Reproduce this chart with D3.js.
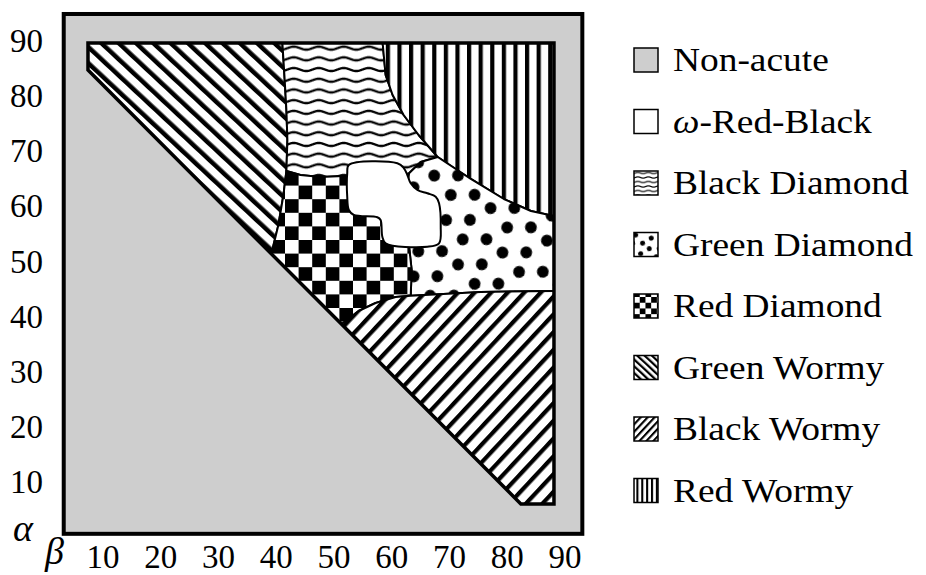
<!DOCTYPE html>
<html>
<head>
<meta charset="utf-8">
<script src="https://cdn.jsdelivr.net/npm/d3@7"></script>
<style>
  body { margin: 0; background: #fff; font-family: "Liberation Serif"; }
  svg { display: block; }
</style>
</head>
<body>
<script>
// Phase diagram over the angles (beta, alpha) of a triangle.
const tickValues = [10, 20, 30, 40, 50, 60, 70, 80, 90];
const frameBeta = [3.2, 93.0];
const frameAlpha = [0.6, 94.9];

// Region of acute triangles that was sampled
const acuteRegion = [[7.40, 89.64], [7.40, 84.74], [82.36, 6.01], [88.09, 6.01], [88.09, 89.64]];

// Phase regions as [beta, alpha] outlines (clipped to the acute region)
const greenWormy = [[0, 100], [41.06, 100], [41.06, 89.64], [41.41, 83.83], [41.76, 77.48], [41.93, 72.04],
  [41.76, 66.42], [41.24, 62.06], [40.37, 56.62], [39.15, 51.38], [0, 30]];
const blackDiamond = [[41.06, 100], [58.42, 100], [58.42, 89.64], [58.94, 83.83], [60.15, 80.20], [62.06, 76.58],
  [64.66, 72.95], [67.96, 68.96], [65.01, 68.05], [63.0, 66.0], [60.0, 65.0], [53.0, 65.5], [51.65, 65.51],
  [47.66, 65.33], [44.19, 65.69], [41.76, 66.42], [41.93, 72.04], [41.76, 77.48], [41.41, 83.83], [41.06, 89.64]];
const redWormy = [[58.42, 100], [100, 100], [100, 58.25], [88.09, 58.25], [84.10, 59.16], [79.41, 61.34],
  [73.69, 64.97], [67.96, 68.96], [64.66, 72.95], [62.06, 76.58], [60.15, 80.20], [58.94, 83.83], [58.42, 89.64]];
const greenDiamond = [[67.96, 68.96], [73.69, 64.97], [79.41, 61.34], [84.10, 59.16], [88.09, 58.25], [100, 58.25],
  [100, 44.65], [88.09, 44.65], [75.42, 44.47], [63.28, 43.8], [63.45, 48.46], [62.93, 53.36], [62.0, 58.0],
  [63.0, 66.0], [65.01, 68.05]];
const redDiamond = [[41.76, 66.42], [44.19, 65.69], [47.66, 65.33], [51.65, 65.51], [53.0, 65.5], [60.0, 62.0],
  [62.93, 53.36], [63.45, 48.46], [63.28, 43.8], [60.67, 43.56], [57.20, 42.47], [54.25, 41.02], [51.30, 38.62],
  [40, 35], [39.15, 51.38], [40.37, 56.62], [41.24, 62.06]];
const blackWormy = [[51.30, 38.62], [54.25, 41.02], [57.20, 42.47], [60.67, 43.56], [63.28, 43.8], [75.42, 44.47],
  [88.09, 44.65], [100, 44.65], [100, 0], [50, 0]];
const omegaRedBlack = [[52.57, 67.51], [60.97, 67.81], [62.11, 66.91], [62.70, 65.69], [63.28, 64.19],
  [64.44, 62.97], [66.17, 62.37], [67.61, 61.76], [68.19, 60.56], [68.48, 56.31], [68.19, 53.30], [66.17, 52.68],
  [58.94, 53.30], [58.37, 54.50], [58.07, 57.53], [57.50, 58.02], [53.44, 58.44], [52.57, 59.34], [52.29, 61.76],
  [52.29, 66.00]];

const regions = [
  { pts: greenWormy, fill: "stripesDown" },
  { pts: blackDiamond, fill: "wavy" },
  { pts: redWormy, fill: "vertical" },
  { pts: greenDiamond, fill: "dots" },
  { pts: redDiamond, fill: "checker" },
  { pts: blackWormy, fill: "stripesUp" }
];

const legendNames = ["Non-acute", "ω-Red-Black", "Black Diamond", "Green Diamond",
  "Red Diamond", "Green Wormy", "Black Wormy", "Red Wormy"];
const legendFills = ["gray", "white", "wavy", "dots", "checker", "stripesDown", "stripesUp", "vertical"];

const GRAY = "#cecece";
const FONT = '"Liberation Serif"';
const x = d3.scaleLinear().domain([10, 90]).range([103, 565]);
const y = d3.scaleLinear().domain([10, 90]).range([482, 41]);

const svg = d3.select("body").append("svg").attr("width", 926).attr("height", 575)
  .style("font-family", FONT);
const defs = svg.append("defs");

// layers: shapes underneath, text on top
const shapes = svg.append("g");
const texts = svg.append("g");

// ---- text first, so the serif face is requested before any other drawing ----
texts.append("g").selectAll("text").data(tickValues).join("text")
  .attr("x", d => x(d)).attr("y", 568).attr("text-anchor", "middle")
  .style("font-family", FONT).style("font-size", "33px").text(d => d);
texts.append("g").selectAll("text").data(tickValues).join("text")
  .attr("x", 43).attr("y", d => y(d) + 11).attr("text-anchor", "end")
  .style("font-family", FONT).style("font-size", "33px").text(d => d);
texts.append("text").attr("x", 13).attr("y", 541)
  .style("font-family", FONT).style("font-style", "italic").style("font-size", "38px").text("α");
texts.append("text").attr("x", 45).attr("y", 564)
  .style("font-family", FONT).style("font-style", "italic").style("font-size", "38px").text("β");

const rowY = i => 60 + i * 61.5;
texts.append("g").selectAll("text").data(legendNames).join("text")
  .attr("transform", (d, i) => `translate(673,${rowY(i) + 11}) scale(1.1,1)`)
  .style("font-family", FONT).style("font-size", "34px")
  .each(function (d) {
    const t = d3.select(this);
    if (d.startsWith("ω")) {
      t.append("tspan").style("font-style", "italic").text("ω");
      t.append("tspan").text(d.slice(1));
    } else {
      t.text(d);
    }
  });

function addPatterns(sfx, k, lw) {
  // wavy horizontal lines
  const pw = 25 * k, ph = 10.7 * k, A = 1.5 * k;
  const wave = d3.range(-2, 53).map(i => [i * pw / 50, ph / 2 + A * Math.sin(2 * Math.PI * i / 50)]);
  const pWavy = defs.append("pattern").attr("id", "wavy" + sfx).attr("patternUnits", "userSpaceOnUse")
    .attr("width", pw).attr("height", ph);
  pWavy.append("rect").attr("width", pw).attr("height", ph).attr("fill", "#fff");
  pWavy.append("path").attr("d", d3.line()(wave)).attr("fill", "none").attr("stroke", "#000")
    .attr("stroke-width", 2.3 * lw);

  // vertical lines
  const vw = 11.6 * k;
  const pVert = defs.append("pattern").attr("id", "vertical" + sfx).attr("patternUnits", "userSpaceOnUse")
    .attr("width", vw).attr("height", 10).attr("x", 3);
  pVert.append("rect").attr("width", vw).attr("height", 10).attr("fill", "#fff");
  pVert.append("rect").attr("width", 4.2 * lw).attr("height", 10).attr("fill", "#000");

  // diagonal stripes
  [["stripesDown", 11.8, -47, 4.5], ["stripesUp", 12.1, 43, 4.2]].forEach(([id, p, rot, bw]) => {
    const pp = p * k;
    const pat = defs.append("pattern").attr("id", id + sfx).attr("patternUnits", "userSpaceOnUse")
      .attr("width", pp).attr("height", pp).attr("patternTransform", `rotate(${rot})`);
    pat.append("rect").attr("width", pp).attr("height", pp).attr("fill", "#fff");
    pat.append("rect").attr("width", bw * lw).attr("height", pp).attr("fill", "#000");
  });

  // checkerboard
  const s = 13.6 * k;
  const pCheck = defs.append("pattern").attr("id", "checker" + sfx).attr("patternUnits", "userSpaceOnUse")
    .attr("width", 2 * s).attr("height", 2 * s).attr("x", sfx ? 0 : 285).attr("y", sfx ? 0 : 172);
  pCheck.append("rect").attr("width", 2 * s).attr("height", 2 * s).attr("fill", "#fff");
  pCheck.append("rect").attr("width", s).attr("height", s).attr("fill", "#000");
  pCheck.append("rect").attr("x", s).attr("y", s).attr("width", s).attr("height", s).attr("fill", "#000");

  // dots
  const dw = 46 * k;
  const pDots = defs.append("pattern").attr("id", "dots" + sfx).attr("patternUnits", "userSpaceOnUse")
    .attr("width", dw).attr("height", dw).attr("patternTransform", "rotate(-15)");
  pDots.append("rect").attr("width", dw).attr("height", dw).attr("fill", "#fff");
  [[6, 6], [29, 12], [17, 29], [40, 35]].forEach(([cx, cy]) => {
    // each dot plus its wrapped copies so dots crossing the tile edge stay whole
    [[0, 0], [-1, 0], [1, 0], [0, -1], [0, 1]].forEach(([a, b]) => {
      pDots.append("circle").attr("cx", (cx + a * 46) * k).attr("cy", (cy + b * 46) * k)
        .attr("r", 5.9 * k).attr("fill", "#000");
    });
  });
}
addPatterns("", 1, 1);
addPatterns("-lg", 0.42, 0.5);

const fillFor = (f, sfx) => f === "gray" ? GRAY : f === "white" ? "#fff" : `url(#${f}${sfx})`;

const line = d3.line().x(d => x(d[0])).y(d => y(d[1]));

// outer frame (non-acute background)
shapes.append("rect")
  .attr("x", x(frameBeta[0])).attr("y", y(frameAlpha[1]))
  .attr("width", x(frameBeta[1]) - x(frameBeta[0]))
  .attr("height", y(frameAlpha[0]) - y(frameAlpha[1]))
  .attr("fill", GRAY).attr("stroke", "#000").attr("stroke-width", 4);

defs.append("clipPath").attr("id", "acute-clip")
  .append("path").attr("d", line(acuteRegion) + "Z");

const plot = shapes.append("g").attr("clip-path", "url(#acute-clip)");
plot.append("path").attr("d", line(acuteRegion) + "Z").attr("fill", "#fff");
plot.selectAll("path.region").data(regions).join("path")
  .attr("class", "region")
  .attr("d", d => line(d.pts) + "Z")
  .attr("fill", d => fillFor(d.fill, ""))
  .attr("stroke", "#000").attr("stroke-width", 2).attr("stroke-linejoin", "round");

const blob = d3.line().x(d => x(d[0])).y(d => y(d[1])).curve(d3.curveCatmullRomClosed.alpha(0.5));
plot.append("path").attr("d", blob(omegaRedBlack))
  .attr("fill", "#fff").attr("stroke", "#000").attr("stroke-width", 2);

shapes.append("path").attr("d", line(acuteRegion) + "Z")
  .attr("fill", "none").attr("stroke", "#000").attr("stroke-width", 3.5).attr("stroke-linejoin", "miter");

// legend swatches
shapes.append("g").selectAll("rect").data(legendFills).join("rect")
  .attr("x", 634).attr("y", (d, i) => rowY(i) - 12).attr("width", 24).attr("height", 24)
  .attr("fill", d => fillFor(d, "-lg")).attr("stroke", "#000").attr("stroke-width", 1.5);
</script>
</body>
</html>
